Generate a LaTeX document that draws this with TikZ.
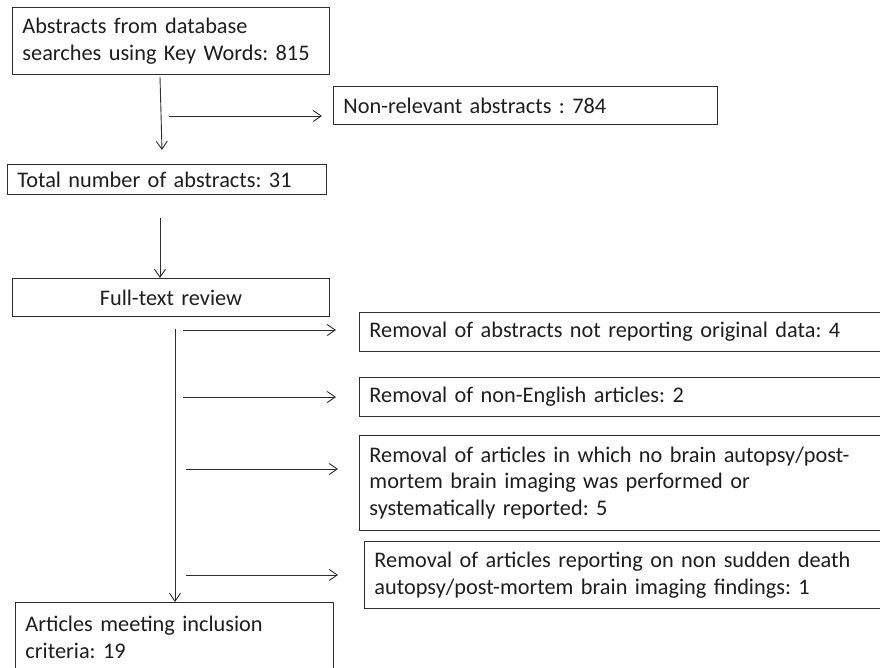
\documentclass[tikz,border=0pt]{standalone}
\usepackage{fontspec}
\setmainfont{Carlito}
\usetikzlibrary{arrows.meta}
\definecolor{linec}{RGB}{45,45,45}
\definecolor{textc}{RGB}{30,30,30}
\newcommand{\mainsize}{\frenchspacing\fontsize{22.3}{26.5}\selectfont}
\tikzset{
  box/.style={draw=linec, line width=0.9pt, anchor=north west, inner xsep=10pt, inner ysep=0pt, align=left, font=\mainsize, text=textc},
  conn/.style={draw=linec, line width=0.9pt, -{Straight Barb[length=8pt,width=11pt,line width=0.9pt]}}
}
\begin{document}
\begin{tikzpicture}[x=1pt,y=-1pt]
\useasboundingbox (0,0) rectangle (880,667);
\fill[white] (0,0) rectangle (880,667);
% boxes
\node[box, text width=297pt, minimum height=67pt] (b1) at (12,7) {Abstracts from database\\searches using Key Words: 815};
\node[box, text width=364pt, minimum height=38pt] (nr) at (333,86) {Non-relevant abstracts : 784};
\node[box, text width=299pt, minimum height=30pt] (b2) at (7,164) {Total number of abstracts: 31};
\node[box, text width=297pt, minimum height=38pt, align=center] (ft) at (12,278) {Full-text review};
\node[box, text width=505pt, minimum height=39pt] (r1) at (359,312) {Removal of abstracts not reporting original data: 4};
\node[box, text width=505pt, minimum height=39pt] (r2) at (359,377) {Removal of non-English articles: 2};
\node[box, text width=505pt, minimum height=95pt] (r3) at (359,435) {Removal of articles in which no brain autopsy/post-\\mortem brain imaging was performed or\\systematically reported: 5};
\node[box, text width=500pt, minimum height=67pt] (r4) at (364,541) {Removal of articles reporting on non sudden death\\autopsy/post-mortem brain imaging findings: 1};
\node[box, text width=298pt, minimum height=70pt] (fin) at (15,602) {Articles meeting inclusion\\criteria: 19};
% connector end points
\coordinate (a1s) at (160,77);
\coordinate (a1e) at (162,150);
\coordinate (h0s) at (169,116);
\coordinate (h0e) at (322,116);
\coordinate (a3s) at (160,218);
\coordinate (trs) at (175,329);
\coordinate (h1s) at (183,330);
\coordinate (h1e) at (336,330);
\coordinate (h2s) at (183,397);
\coordinate (h2e) at (336,397);
\coordinate (h3s) at (186,469);
\coordinate (h3e) at (338,469);
\coordinate (h4s) at (186,575);
\coordinate (h4e) at (338,575);
% connectors
\draw[conn] (a1s) -- (a1e);
\draw[conn] (h0s) -- (h0e);
\draw[conn] (a3s) -- (a3s |- ft.north);
\draw[conn] (trs) -- (trs |- fin.north);
\draw[conn] (h1s) -- (h1e);
\draw[conn] (h2s) -- (h2e);
\draw[conn] (h3s) -- (h3e);
\draw[conn] (h4s) -- (h4e);
\end{tikzpicture}
\end{document}
